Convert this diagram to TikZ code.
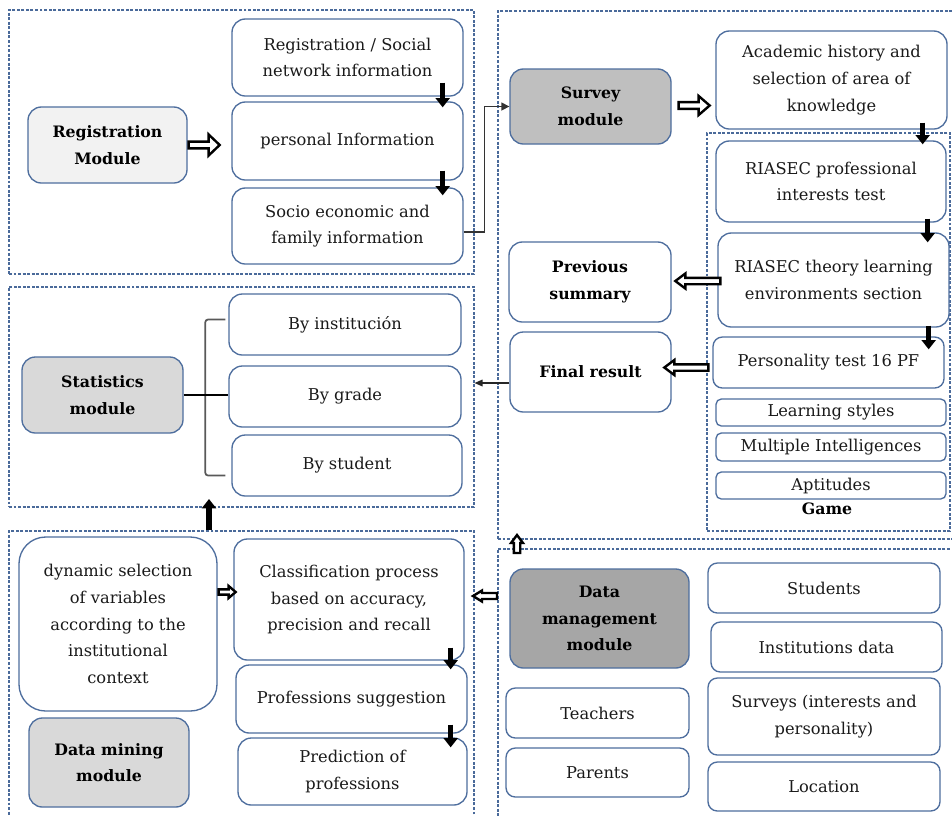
\documentclass[tikz,border=0pt]{standalone}
\usepackage{fontspec}
\setmainfont{DejaVu Serif}
\usetikzlibrary{fit,calc,arrows.meta}
\definecolor{bxc}{HTML}{4E6E9E}
\definecolor{regc}{HTML}{4A6A9A}
\definecolor{txc}{HTML}{1A1A1A}
\definecolor{fA}{HTML}{F2F2F2}
\definecolor{fB}{HTML}{BFBFBF}
\definecolor{fC}{HTML}{D9D9D9}
\definecolor{fD}{HTML}{A6A6A6}
\newcommand\hollowH[6]{%
 \draw[hol] let \p1=#1, \p2=#2 in
 (\x1,{\y1+#3*0.75pt}) -- ({\x2-(#6)*#5*0.75pt},{\y1+#3*0.75pt}) -- ({\x2-(#6)*#5*0.75pt},{\y1+#4*0.75pt}) -- (\x2,\y1) -- ({\x2-(#6)*#5*0.75pt},{\y1-#4*0.75pt}) -- ({\x2-(#6)*#5*0.75pt},{\y1-#3*0.75pt}) -- (\x1,{\y1-#3*0.75pt}) -- cycle;}
\newcommand\hollowV[6]{%
 \draw[hol] let \p1=#1, \p2=#2 in
 ({\x1+#3*0.75pt},\y1) -- ({\x1+#3*0.75pt},{\y2-(#6)*#5*0.75pt}) -- ({\x1+#4*0.75pt},{\y2-(#6)*#5*0.75pt}) -- (\x1,\y2) -- ({\x1-#4*0.75pt},{\y2-(#6)*#5*0.75pt}) -- ({\x1-#3*0.75pt},{\y2-(#6)*#5*0.75pt}) -- ({\x1-#3*0.75pt},\y1) -- cycle;}
\newcommand\bx[8]{\node[#6, fit={(#2,#3) (#4,#5)}] (#1) {};
 \node[#7] (#1t) at (#1.center) {#8};}
\tikzset{
 bx/.style={draw=bxc, line width=1pt, rounded corners=10pt, fill=white, inner sep=0pt},
 sbx/.style={bx, rounded corners=4pt},
 mbx/.style={bx, rounded corners=7pt},
 dbx/.style={bx, rounded corners=20pt},
 tx/.style={align=center, inner sep=0pt, text=txc, font=\fontsize{12.2}{20}\selectfont},
 tb/.style={align=center, inner sep=0pt, text=black, font=\fontsize{11.8}{20}\selectfont\bfseries},
 region/.style={draw=regc, line width=0.8pt, dash pattern=on 2.2pt off 1.2pt, inner sep=0pt},
 blk/.style={line width=4pt, -{Triangle[length=7pt,width=10.5pt]}},
 hol/.style={draw=black, fill=white, line width=1.8pt, line join=miter},
 conn/.style={draw=black!80, line width=1.1pt, -{Triangle[length=6pt,width=6pt]}},
 brk/.style={draw=black!65, line width=1.3pt},
}
\begin{document}
\begin{tikzpicture}[x=0.75pt,y=-0.75pt]
\clip (0,0) rectangle (952,815);
\fill[white] (0,0) rectangle (952,815);
% regions
\node[region, fit={(9,10) (474,274)}] (regR) {};
\node[region, fit={(498,11) (962,539)}] (survR) {};
\node[region, fit={(707,133) (950,531)}] (gameR) {};
\node[region, fit={(9,287) (474,507)}] (stR) {};
\node[region, fit={(9,531) (474,830)}] (minR) {};
\node[region, fit={(498,549) (962,830)}] (mgR) {};
% registration
\bx{regm}{28}{107}{187}{183}{bx, fill=fA}{tb}{Registration\\Module}
\bx{rs}{232}{19}{463}{96}{bx}{tx}{Registration / Social\\network information}
\bx{pinfo}{232}{102}{463}{180}{bx}{tx}{personal Information}
\bx{socio}{232}{188}{463}{264}{bx}{tx}{Socio economic and\\family information}
% survey
\bx{surv}{510}{69}{671}{144}{bx, fill=fB}{tb}{Survey\\module}
\bx{acad}{716}{31}{947}{129}{bx}{tx}{Academic history and\\selection of area of\\knowledge}
\bx{prof}{716}{141}{946}{222}{bx}{tx}{RIASEC professional\\interests test}
\bx{theory}{718}{233}{949}{327}{bx}{tx}{RIASEC theory learning\\environments section}
\bx{prev}{509}{242}{671}{322}{bx}{tb}{Previous\\summary}
\bx{pers}{713}{337}{944}{388}{mbx}{tx}{Personality test 16 PF}
\bx{final}{510}{332}{671}{412}{bx}{tb}{Final result}
\bx{learn}{716}{399}{946}{426}{sbx}{tx}{Learning styles}
\bx{multi}{716}{433}{946}{461}{sbx}{tx}{Multiple Intelligences}
\bx{apt}{716}{472}{946}{499}{sbx}{tx}{Aptitudes}
\node[tb] (game) at (827,509) {Game};
% statistics
\bx{stat}{22}{357}{183}{433}{bx, fill=fC}{tb}{Statistics\\module}
\bx{inst}{229}{294}{461}{355}{bx}{tx}{By institución}
\bx{grade}{229}{366}{461}{427}{bx}{tx}{By grade}
\bx{stud}{232}{435}{462}{496}{bx}{tx}{By student}
% data mining
\bx{dyn}{19}{537}{217}{711}{dbx}{tx}{dynamic selection\\of variables\\according to the\\institutional\\context}
\bx{dmm}{29}{718}{189}{807}{bx, fill=fC}{tb}{Data mining\\module}
\bx{clas}{234}{539}{464}{660}{bx}{tx}{Classification process\\based on accuracy,\\precision and recall}
\bx{sug}{236}{665}{467}{733}{bx}{tx}{Professions suggestion}
\bx{pred}{238}{738}{467}{805}{bx}{tx}{Prediction of\\professions}
% data management
\bx{dman}{510}{569}{689}{668}{bx, fill=fD}{tb}{Data\\management\\module}
\bx{teach}{506}{688}{689}{738}{mbx}{tx}{Teachers}
\bx{par}{506}{748}{689}{797}{mbx}{tx}{Parents}
\bx{studs}{708}{563}{940}{613}{mbx}{tx}{Students}
\bx{instd}{711}{622}{942}{672}{mbx}{tx}{Institutions data}
\bx{surveys}{708}{678}{940}{755}{mbx}{tx}{Surveys (interests and\\personality)}
\bx{loc}{708}{762}{940}{811}{mbx}{tx}{Location}
% black arrows
\draw[blk] ([shift={(-21,-14)}]rs.south east) -- ([shift={(-21,6)}]pinfo.north east);
\draw[blk] ([shift={(-21,-10)}]pinfo.south east) -- ([shift={(-21,8)}]socio.north east);
\draw[blk] ([shift={(-25,-7)}]acad.south east) -- ([shift={(-24,4)}]prof.north east);
\draw[blk] ([shift={(-19,-4)}]prof.south east) -- ([shift={(-22,10)}]theory.north east);
\draw[blk] ([shift={(-21,-2)}]theory.south east) -- ([shift={(-16,13)}]pers.north east);
\draw[blk] ([shift={(-14,-13)}]clas.south east) -- ([shift={(-17,5)}]sug.north east);
\draw[blk] ([shift={(-17,-9)}]sug.south east) -- ([shift={(-17,10)}]pred.north east);
\coordinate (m1) at (minR.north -| 209,0);
\coordinate (m2) at (209,499);
\draw[blk] (m1) -- (m2);
% hollow arrows
\hollowH{($(regm.east)+(1,0)$)}{($(regm.east)+(32,0)$)}{3.4}{10.5}{11}{1}
\hollowH{($(surv.east)+(7,-1)$)}{($(surv.east)+(38,-1)$)}{3.4}{9.5}{11}{1}
\hollowH{($(theory.west)+(3,1)$)}{($(theory.west)+(-42,1)$)}{3.2}{7.5}{10}{-1}
\hollowH{($(pers.west)+(-4,5)$)}{($(pers.west)+(-48,5)$)}{3.2}{7.5}{10}{-1}
\hollowH{($(dyn.east)+(1,-32)$)}{($(dyn.east)+(18,-32)$)}{2.6}{6}{7}{1}
\coordinate (h1) at (497,596);
\coordinate (h2) at (473,596);
\hollowH{(h1)}{(h2)}{3}{5.5}{9}{-1}
\coordinate (u1) at (517,553);
\coordinate (u2) at (517,535);
\hollowV{(u1)}{(u2)}{3.2}{6}{8}{1}
% connectors
\draw[conn] ($(socio.east)+(0,6)$) -- ++(21,0) |- (surv.west);
\coordinate (f1) at ($(final.west)+(0,11)$);
\draw[draw=black!85, line width=0.9pt, -{Triangle[length=6pt,width=5pt]}] (f1) -- (f1 -| stR.east);
% bracket
\draw[brk, rounded corners=2pt] ($(inst.west)+(-3,-5)$) -- ($(inst.west)+(-23,-5)$) -- ($(stud.west)+(-26,10)$) -- ($(stud.west)+(-6,10)$);
\draw[line width=1.6pt] (stat.east) -- ($(stat.east)+(23,0)$);
\draw[line width=0.9pt] ($(stat.east)+(23,0)$) -- (stat.east -| grade.west);
\end{tikzpicture}
\end{document}
